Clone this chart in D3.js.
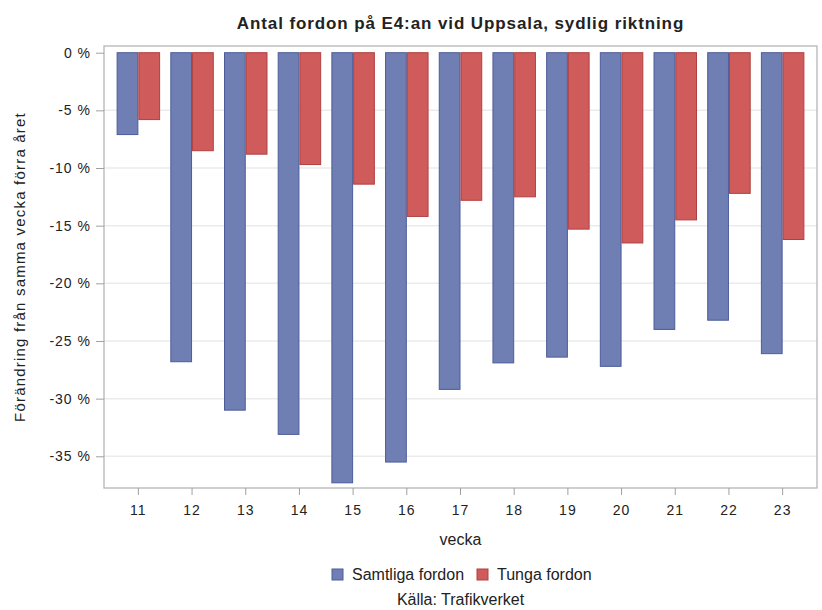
<!DOCTYPE html>
<html>
<head>
<meta charset="utf-8">
<script src="https://cdn.jsdelivr.net/npm/d3@7"></script>
<style>
  body { margin: 0; background: #fff; }
  text { font-family: "Liberation Sans", Arial, sans-serif; fill: #222; }
</style>
</head>
<body>
<div id="chart"></div>
<script>
const weeks = ["11", "12", "13", "14", "15", "16", "17", "18", "19", "20", "21", "22", "23"];
const samtliga = [-7.1, -26.8, -31.0, -33.1, -37.3, -35.5, -29.2, -26.9, -26.4, -27.2, -24.0, -23.2, -26.1];
const tunga = [-5.8, -8.5, -8.8, -9.7, -11.4, -14.2, -12.8, -12.5, -15.3, -16.5, -14.5, -12.2, -16.2];
const seriesNames = ["Samtliga fordon", "Tunga fordon"];
const yTicks = [0, -5, -10, -15, -20, -25, -30, -35];

const W = 822, H = 610;
const plot = { left: 104, right: 817, top: 46, bottom: 488 };

const svg = d3.select("#chart").append("svg")
  .attr("width", W).attr("height", H);

const rows = weeks.map((w, i) => ({ week: w, vals: [samtliga[i], tunga[i]] }));

const x = d3.scaleBand()
  .domain(weeks)
  .range([plot.left, plot.right])
  .paddingInner(0.19)
  .paddingOuter(0.235);

const xSub = d3.scaleBand()
  .domain([0, 1])
  .range([0, x.bandwidth()]);

const y = d3.scaleLinear()
  .domain([-37.75, 0.58])
  .range([plot.bottom, plot.top]);

const colors = ["#6f7eb3", "#d05b5b"];
const strokes = ["#4d5c99", "#b04040"];

// grid
svg.append("g").selectAll("line")
  .data(yTicks.filter(d => d !== 0))
  .join("line")
  .attr("x1", plot.left).attr("x2", plot.right)
  .attr("y1", d => y(d)).attr("y2", d => y(d))
  .attr("stroke", "#ebebeb").attr("stroke-width", 1.5);

// bars
const groups = svg.append("g").selectAll("g")
  .data(rows)
  .join("g")
  .attr("transform", d => `translate(${x(d.week)},0)`);

groups.selectAll("rect")
  .data(d => d.vals.map((v, k) => ({ v, k })))
  .join("rect")
  .attr("x", d => xSub(d.k) + 0.5)
  .attr("width", xSub.bandwidth() - 1)
  .attr("y", y(0))
  .attr("height", d => y(d.v) - y(0))
  .attr("fill", d => colors[d.k])
  .attr("stroke", d => strokes[d.k])
  .attr("stroke-width", 1);

// frame
svg.append("rect")
  .attr("x", plot.left).attr("y", plot.top)
  .attr("width", plot.right - plot.left).attr("height", plot.bottom - plot.top)
  .attr("fill", "none").attr("stroke", "#b0b0b0").attr("stroke-width", 1.2);

// y axis
const yAxis = svg.append("g")
  .attr("transform", `translate(${plot.left},0)`)
  .call(d3.axisLeft(y).tickValues(yTicks).tickSize(8).tickPadding(5)
    .tickFormat(d => `${d} %`));
yAxis.select(".domain").remove();
yAxis.selectAll("line").attr("stroke", "#a0a0a0");
yAxis.selectAll("text").style("font-size", "14px").style("letter-spacing", "1px").attr("fill", "#222");

// x axis
const xAxis = svg.append("g")
  .attr("transform", `translate(0,${plot.bottom})`)
  .call(d3.axisBottom(x).tickSize(7).tickPadding(10));
xAxis.select(".domain").remove();
xAxis.selectAll("line").attr("stroke", "#a0a0a0");
xAxis.selectAll("text").style("font-size", "14px").style("letter-spacing", "1px").attr("fill", "#222");

// title
svg.append("text")
  .attr("x", (plot.left + plot.right) / 2).attr("y", 29)
  .attr("text-anchor", "middle")
  .style("font-size", "17px").style("font-weight", "bold")
  .style("letter-spacing", "0.9px")
  .text("Antal fordon på E4:an vid Uppsala, sydlig riktning");

// axis labels
svg.append("text")
  .attr("transform", `translate(25,${(plot.top + plot.bottom) / 2}) rotate(-90)`)
  .attr("text-anchor", "middle")
  .style("font-size", "15px")
  .style("letter-spacing", "1.2px")
  .text("Förändring från samma vecka förra året");

svg.append("text")
  .attr("x", (plot.left + plot.right) / 2).attr("y", 545)
  .attr("text-anchor", "middle")
  .style("font-size", "16px")
  .text("vecka");

// legend
const legend = svg.append("g").attr("transform", "translate(332,569)");
const items = legend.selectAll("g")
  .data(seriesNames)
  .join("g")
  .attr("transform", (d, i) => `translate(${i * 145},0)`);
items.append("rect")
  .attr("width", 11).attr("height", 11)
  .attr("fill", (d, i) => colors[i])
  .attr("stroke", (d, i) => strokes[i]);
items.append("text")
  .attr("x", 20).attr("y", 11)
  .style("font-size", "16px")
  .text(d => d);

svg.append("text")
  .attr("x", (plot.left + plot.right) / 2).attr("y", 605)
  .attr("text-anchor", "middle")
  .style("font-size", "16px")
  .text("Källa: Trafikverket");
</script>
</body>
</html>
